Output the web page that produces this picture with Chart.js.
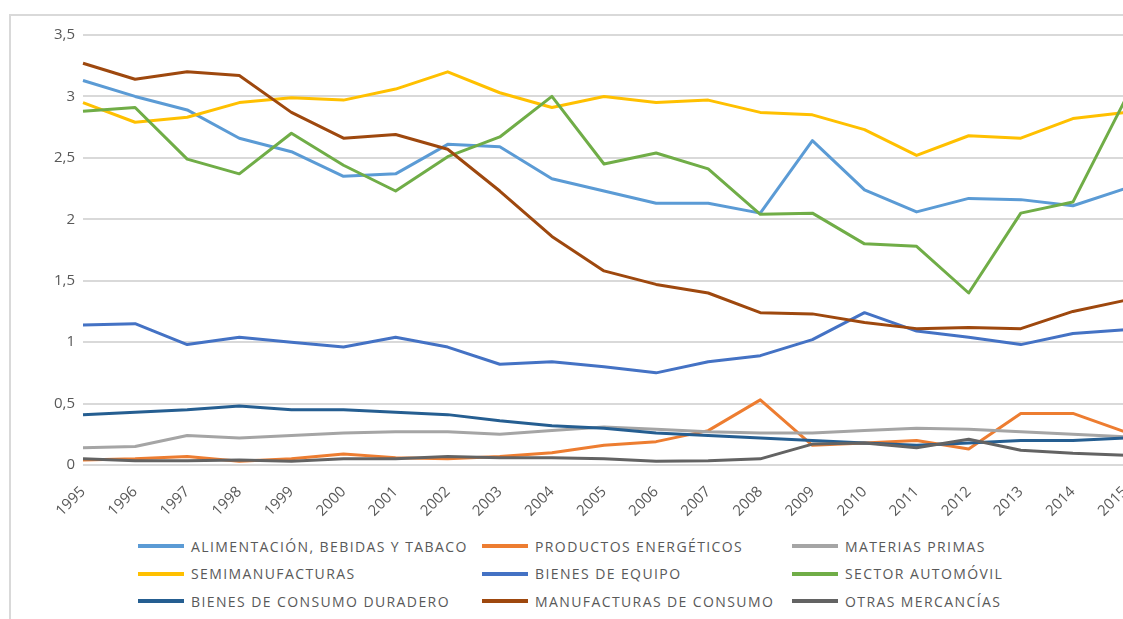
<!DOCTYPE html>
<html lang="es">
<head>
    <meta charset="UTF-8">
    <title>Exportaciones por sector</title>
    <script src="https://cdn.jsdelivr.net/npm/chart.js"></script>
    <style>
        html, body { margin: 0; padding: 0; background: #fff; overflow: hidden; width: 1123px; height: 619px; }
        #frame {
            position: absolute; left: 9px; top: 14px; width: 1300px; height: 700px;
            border-left: 2px solid #d9d9d9; border-top: 2px solid #d9d9d9;
        }
        #lineChart { position: absolute; left: 0; top: 0; }
        #legend {
            position: absolute; left: 138px; top: 535px;
            display: grid; grid-template-columns: 344px 310px auto; row-gap: 5px;
            font-family: "Open Sans", sans-serif; font-size: 14px; color: #595959; letter-spacing: 1.4px;
        }
        .item { display: flex; align-items: center; height: 22.5px; white-space: nowrap; }
        .swatch { width: 46px; height: 4px; margin-right: 7px; flex: none; }
    </style>
</head>
<body>
    <div id="frame"></div>
    <canvas id="lineChart" width="1150" height="520"></canvas>
    <div id="legend"></div>

    <script>
        // Categories
        const years = ['1995', '1996', '1997', '1998', '1999', '2000', '2001', '2002', '2003', '2004',
            '2005', '2006', '2007', '2008', '2009', '2010', '2011', '2012', '2013', '2014', '2015'];

        // Series values
        const alimentacion = [3.13, 3.00, 2.89, 2.66, 2.55, 2.35, 2.37, 2.61, 2.59, 2.33, 2.23, 2.13, 2.13, 2.05, 2.64, 2.24, 2.06, 2.17, 2.16, 2.11, 2.25];
        const energeticos = [0.04, 0.05, 0.07, 0.03, 0.05, 0.09, 0.06, 0.05, 0.07, 0.10, 0.16, 0.19, 0.28, 0.53, 0.16, 0.18, 0.20, 0.13, 0.42, 0.42, 0.27];
        const materiasPrimas = [0.14, 0.15, 0.24, 0.22, 0.24, 0.26, 0.27, 0.27, 0.25, 0.28, 0.31, 0.29, 0.27, 0.26, 0.26, 0.28, 0.30, 0.29, 0.27, 0.25, 0.23];
        const semimanufacturas = [2.95, 2.79, 2.83, 2.95, 2.99, 2.97, 3.06, 3.20, 3.03, 2.91, 3.00, 2.95, 2.97, 2.87, 2.85, 2.73, 2.52, 2.68, 2.66, 2.82, 2.87];
        const bienesEquipo = [1.14, 1.15, 0.98, 1.04, 1.00, 0.96, 1.04, 0.96, 0.82, 0.84, 0.80, 0.75, 0.84, 0.89, 1.02, 1.24, 1.09, 1.04, 0.98, 1.07, 1.10];
        const automovil = [2.88, 2.91, 2.49, 2.37, 2.70, 2.44, 2.23, 2.51, 2.67, 3.00, 2.45, 2.54, 2.41, 2.04, 2.05, 1.80, 1.78, 1.40, 2.05, 2.14, 2.97];
        const consumoDuradero = [0.41, 0.43, 0.45, 0.48, 0.45, 0.45, 0.43, 0.41, 0.36, 0.32, 0.30, 0.26, 0.24, 0.22, 0.20, 0.18, 0.16, 0.18, 0.20, 0.20, 0.22];
        const manufacturasConsumo = [3.27, 3.14, 3.20, 3.17, 2.87, 2.66, 2.69, 2.57, 2.23, 1.86, 1.58, 1.47, 1.40, 1.24, 1.23, 1.16, 1.11, 1.12, 1.11, 1.25, 1.34];
        const otras = [0.05, 0.035, 0.035, 0.04, 0.03, 0.05, 0.05, 0.07, 0.06, 0.06, 0.05, 0.03, 0.035, 0.05, 0.17, 0.18, 0.14, 0.21, 0.12, 0.095, 0.08];

        // Y axis ticks
        const yTicks = [0, 0.5, 1, 1.5, 2, 2.5, 3, 3.5];

        const series = [
            ['ALIMENTACIÓN, BEBIDAS Y TABACO', alimentacion, '#5b9bd5'],
            ['PRODUCTOS ENERGÉTICOS', energeticos, '#ed7d31'],
            ['MATERIAS PRIMAS', materiasPrimas, '#a5a5a5'],
            ['SEMIMANUFACTURAS', semimanufacturas, '#ffc000'],
            ['BIENES DE EQUIPO', bienesEquipo, '#4472c4'],
            ['SECTOR AUTOMÓVIL', automovil, '#70ad47'],
            ['BIENES DE CONSUMO DURADERO', consumoDuradero, '#255e91'],
            ['MANUFACTURAS DE CONSUMO', manufacturasConsumo, '#9e480e'],
            ['OTRAS MERCANCÍAS', otras, '#636363']
        ];

        const tickFont = { family: '"Open Sans", sans-serif', size: 15 };

        const chart = new Chart(document.getElementById('lineChart'), {
            type: 'line',
            data: {
                labels: years,
                datasets: series.map(([label, data, color], i) => ({
                    label: label,
                    data: data,
                    borderColor: color,
                    backgroundColor: color,
                    borderWidth: 3,
                    borderJoinStyle: 'round',
                    pointRadius: 0,
                    tension: 0,
                    order: series.length - i  // later series drawn on top, like Excel
                }))
            },
            options: {
                responsive: false,
                animation: false,
                // right side runs past the window edge, as in the original crop
                layout: { padding: { top: 35, right: 25, left: 0, bottom: 0 } },
                plugins: {
                    legend: { display: false },
                    tooltip: { enabled: false }
                },
                scales: {
                    x: {
                        grid: { display: false },
                        border: { display: false },
                        ticks: {
                            color: '#595959', font: tickFont,
                            maxRotation: 45, minRotation: 45, autoSkip: false, padding: 10
                        },
                        afterFit: (scale) => { scale.height = 55; }
                    },
                    y: {
                        min: 0, max: 3.5,
                        afterBuildTicks: (scale) => { scale.ticks = yTicks.map(v => ({ value: v })); },
                        grid: { color: '#d9d9d9', lineWidth: 2, drawTicks: false },
                        border: { display: false },
                        ticks: {
                            color: '#595959', font: tickFont, padding: 8,
                            callback: (v) => String(v).replace('.', ',')
                        },
                        afterFit: (scale) => { scale.width = 83; }
                    }
                }
            }
        });

        // Legend laid out in three columns like the original
        const legend = document.getElementById('legend');
        chart.data.datasets.forEach(ds => {
            const item = document.createElement('div');
            item.className = 'item';
            item.innerHTML = `<span class="swatch" style="background:${ds.borderColor}"></span><span>${ds.label}</span>`;
            legend.appendChild(item);
        });
    </script>
</body>
</html>
